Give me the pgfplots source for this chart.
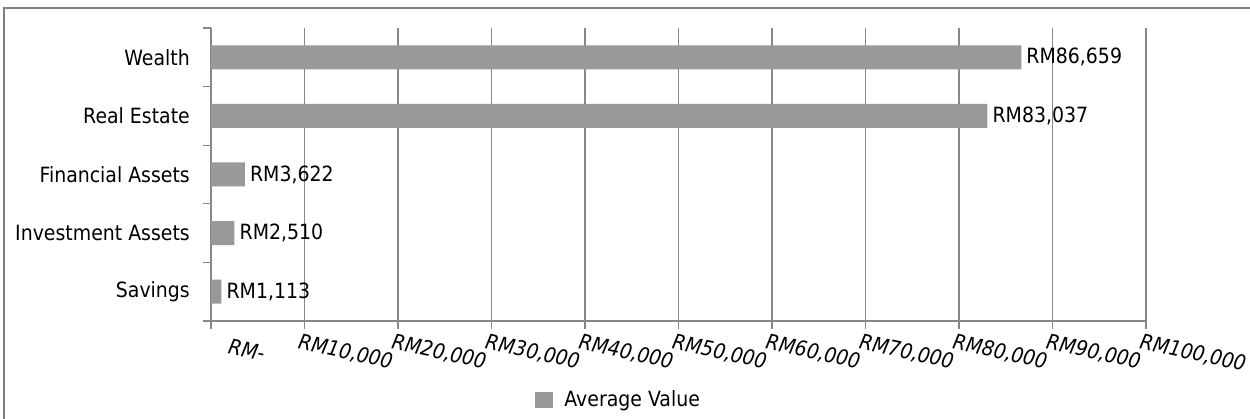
\documentclass[border=0pt]{standalone}
\usepackage{fontspec}
\setmainfont{DejaVu Sans}[FakeStretch=0.9]
\usepackage{pgfplots}
\pgfplotsset{compat=1.18}

\definecolor{barfill}{HTML}{999999}
\definecolor{gridgray}{HTML}{878787}
\definecolor{framegray}{HTML}{7F7F7F}
\newcommand\chartfont{\fontsize{21bp}{25bp}\selectfont}

\begin{document}
\chartfont
\begin{tikzpicture}
  % canvas of the chart area (1 bp per pixel)
  \useasboundingbox (0,0) rectangle (1250bp,419bp);
  % outer chart frame
  \draw[framegray, line width=1.3bp] (4bp,-5bp) -- (4bp,411bp) -- (1260bp,411bp);

  \begin{axis}[
    at={(211bp,98bp)}, anchor=south west,
    scale only axis, width=935bp, height=293bp,
    xbar, bar width=24bp,
    xmin=0, xmax=100000,
    ymin=-0.5, ymax=4.5,
    axis x line*=bottom, axis y line*=left,
    axis line style={-, draw=gridgray, line width=1.3bp},
    tick align=outside, major tick length=8bp,
    every tick/.style={draw=gridgray, line width=1.3bp},
    xmajorgrids=true,
    major grid style={draw=gridgray, line width=1.3bp},
    scaled x ticks=false,
    xtick={0,10000,20000,30000,40000,50000,60000,70000,80000,90000,100000},
    xticklabels={\hspace*{24bp}RM-, RM10{,}000, RM20{,}000, RM30{,}000, RM40{,}000,
                 RM50{,}000, RM60{,}000, RM70{,}000, RM80{,}000, RM90{,}000, RM100{,}000},
    xticklabel style={font=\chartfont\itshape, rotate=-12, anchor=north west,
                      inner sep=0pt, xshift=-3bp, yshift=-5bp},
    % category boundaries carry the tick marks
    ytick={-0.5,0.5,1.5,2.5,3.5,4.5},
    yticklabels={},
    % category names sit at the bar centres
    extra y ticks={0,1,2,3,4},
    extra y tick labels={Savings, Investment Assets, Financial Assets, Real Estate, Wealth},
    extra y tick style={major tick length=0pt, grid=none},
    yticklabel style={font=\chartfont, anchor=east, inner sep=0pt, xshift=-21bp},
    nodes near coords={RM\pgfmathprintnumber[fixed, precision=0, 1000 sep={,},
                       assume math mode=true]{\pgfplotspointmeta}},
    point meta=x,
    every node near coord/.append style={font=\chartfont, anchor=west, inner sep=0pt, xshift=5bp},
    legend style={at={(0.436,-0.270)}, anchor=center, draw=none, fill=none,
                  font=\chartfont, inner sep=0pt},
    legend image code/.code={\fill[barfill] (0bp,-8bp) rectangle (18bp,8bp);
                             \path (27bp,0bp);},
  ]
    \addplot[fill=barfill, draw=none] coordinates {
      (1113,0)
      (2510,1)
      (3622,2)
      (83037,3)
      (86659,4)
    };
    \addlegendentry{Average Value}
  \end{axis}
\end{tikzpicture}
\end{document}
